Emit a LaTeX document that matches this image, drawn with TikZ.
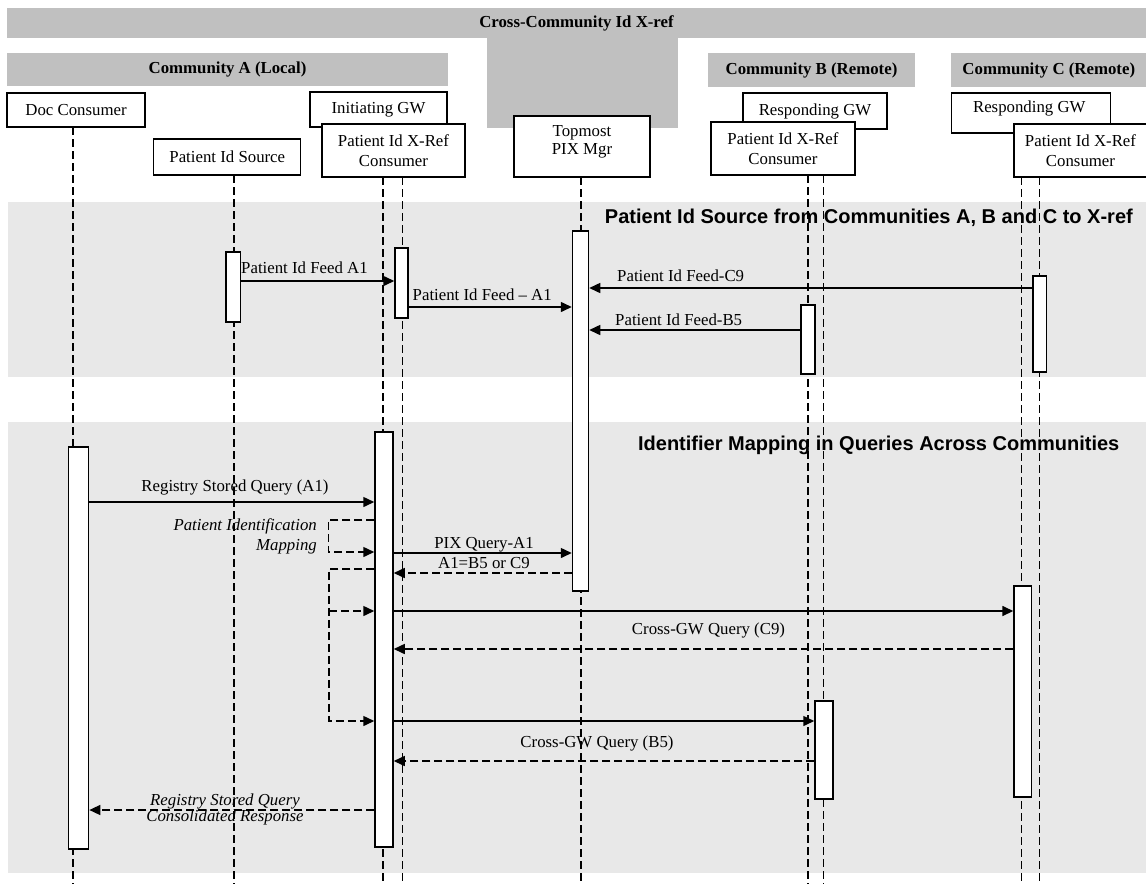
\documentclass[tikz,border=0pt]{standalone}
\usepackage{fontspec}
\setmainfont{Liberation Serif}
\newfontfamily\bandfont{Liberation Sans}
\usepackage{tikz}
\usetikzlibrary{arrows.meta, positioning, calc}
\definecolor{hdrgray}{RGB}{192, 192, 192}
\definecolor{bandgray}{RGB}{232, 232, 232}

\tikzset{
  actor/.style={draw, fill=white, line width=1.3pt, inner sep=0pt, align=center,
                font=\fontsize{16.8}{20.5}\selectfont},
  hdr/.style={fill=hdrgray, inner sep=0pt, font=\fontsize{16.8}{20}\selectfont\bfseries},
  bar/.style={draw, fill=white, line width=1.5pt, inner sep=0pt},
  lifeline/.style={line width=1.2pt, dash pattern=on 8pt off 4pt},
  msg/.style={line width=1.5pt, -{Triangle[length=11pt, width=10pt]}},
  reply/.style={msg, dash pattern=on 8pt off 4pt},
  lbl/.style={inner sep=0pt, font=\fontsize{16.8}{20}\selectfont},
  bandtitle/.style={inner sep=0pt, font=\fontsize{20}{23}\bandfont\bfseries},
}

\begin{document}
\begin{tikzpicture}[x=1pt, y=-1pt]
    \useasboundingbox (0,0) rectangle (1146,884);

    % phase bands
    \fill[bandgray] (8,202) rectangle (1146,377);
    \fill[bandgray] (8,422) rectangle (1146,873);
    \node[bandtitle, anchor=base east] (tFeed) at (1133,223.5)
        {Patient Id Source from Communities A, B and C to X-ref};
    \node[bandtitle, anchor=base east] (tMap) at (1119.5,450)
        {Identifier Mapping in Queries Across Communities};

    % community headers
    \node[hdr, minimum width=1139pt, minimum height=30pt] (xrefHdr) at (576.5,23) {Cross-Community Id X-ref};
    \fill[hdrgray] (487,37) rectangle (678,128);
    \node[hdr, minimum width=441pt, minimum height=33pt] (commA) at (227.5,69.5) {Community A (Local)};
    \node[hdr, minimum width=207pt, minimum height=34pt] (commB) at (811.5,70) {Community B (Remote)};
    \node[hdr, minimum width=195pt, minimum height=34pt] (commC) at (1048.8,70) {Community C (Remote)};

    % actors
    \node[actor, minimum width=138pt, minimum height=34pt] (docC) at (76,110) {Doc Consumer};
    \node[actor, minimum width=147pt, minimum height=36pt] (pidSrc) at (227.3,157) {Patient Id Source};
    \node[actor, minimum width=137pt, minimum height=35pt] (initGW) at (378.5,109.5) {Initiating GW};
    \node[actor, minimum width=143pt, minimum height=53pt] (xrefA) at (393.5,150.5) {Patient Id X-Ref\\Consumer};
    \node[actor, minimum width=136pt, minimum height=61pt,
          label={[lbl, name=pixTxt, align=center, font=\fontsize{16.8}{17.5}\selectfont, yshift=4.8pt]center:Topmost\\PIX Mgr}]
          (pixMgr) at (582,146.5) {};
    \node[actor, minimum width=144pt, minimum height=36pt] (respB) at (815,111) {Responding GW};
    \node[actor, minimum width=144pt, minimum height=53pt] (xrefB) at (783,148.5) {Patient Id X-Ref\\Consumer};
    \node[actor, minimum width=159pt, minimum height=40pt,
          label={[lbl, name=respCTxt, yshift=4.9pt, xshift=-2pt]center:Responding GW}]
          (respC) at (1031.3,112.9) {};
    \node[actor, minimum width=133pt, minimum height=53pt] (xrefC) at (1080.5,150.5) {Patient Id X-Ref\\Consumer};

    % lifelines
    \foreach \x/\y in {73/127, 234/175, 383/177, 402.5/177, 581/177, 808/175, 823.4/175, 1021.5/177, 1039.4/177}
        \draw[lifeline] (\x,\y) -- (\x,884);

    % activation bars
    \node[bar, minimum width=14.5pt, minimum height=70pt] (barSrc) at (233.3,287) {};
    \node[bar, minimum width=13pt, minimum height=70pt] (barXA) at (401.5,283) {};
    \node[bar, minimum width=16pt, minimum height=360pt] (barPix) at (580.5,411) {};
    \node[bar, minimum width=13.5pt, minimum height=96pt] (barXC) at (1039.7,324) {};
    \node[bar, minimum width=14pt, minimum height=69pt] (barXB) at (808,339.5) {};
    \node[bar, minimum width=20pt, minimum height=402pt] (barDoc) at (78.6,648) {};
    \node[bar, minimum width=18pt, minimum height=415pt] (barIGW) at (384,639.5) {};
    \node[bar, minimum width=17.5pt, minimum height=211pt] (barRC) at (1022.8,691.5) {};
    \node[bar, minimum width=18pt, minimum height=98pt] (barRB) at (824,750) {};

    % feeds to the X-ref
    \draw[msg] (barSrc.east |- 0,281) -- (barXA.west |- 0,281);
    \draw[msg] (barXA.east |- 0,307) -- (barPix.west |- 0,307);
    \draw[msg] (barXC.west |- 0,288) -- (barPix.east |- 0,288);
    \draw[msg] (barXB.west |- 0,330) -- (barPix.east |- 0,330);
    \node[lbl, anchor=base west] (lbFeedA) at (241,273) {Patient Id Feed A1};
    \node[lbl, anchor=base west] (lbFeedA2) at (412.5,300) {Patient Id Feed – A1};
    \node[lbl, anchor=base west] (lbFeedC) at (617,281) {Patient Id Feed-C9};
    \node[lbl, anchor=base west] (lbFeedB) at (615,325) {Patient Id Feed-B5};

    % queries across communities
    \draw[msg] (barDoc.east |- 0,502) -- (barIGW.west |- 0,502);
    \node[lbl, anchor=base] (lbRSQ) at (235,491) {Registry Stored Query (A1)};

    \draw[reply] (barIGW.west |- 0,520) -- ++(-46,0) |- (barIGW.west |- 0,552);
    \node[lbl, anchor=north east, align=right, font=\fontsize{16.8}{20}\selectfont\itshape] (lbMap) at (317,518.5)
        {Patient Identification\\Mapping};

    \draw[msg] (barIGW.east |- 0,553) -- (barPix.west |- 0,553);
    \node[lbl, anchor=base] (lbPixQ) at (484,548) {PIX Query-A1};
    \draw[reply] (barPix.west |- 0,573) -- (barIGW.east |- 0,573);
    \node[lbl, anchor=base] (lbPixR) at (484,568) {A1=B5 or C9};

    \coordinate (mapTurn) at (329,0);
    \draw[reply] (barIGW.west |- 0,569) -| (mapTurn |- 0,721) -- (barIGW.west |- 0,721);
    \draw[reply] (mapTurn |- 0,611) -- (barIGW.west |- 0,611);

    \draw[msg] (barIGW.east |- 0,611) -- (barRC.west |- 0,611);
    \draw[reply] (barRC.west |- 0,649) -- (barIGW.east |- 0,649);
    \node[lbl, anchor=base] (lbGwC) at (708.5,634) {Cross-GW Query (C9)};

    \draw[msg] (barIGW.east |- 0,721) -- (barRB.west |- 0,721);
    \draw[reply] (barRB.west |- 0,761) -- (barIGW.east |- 0,761);
    \node[lbl, anchor=base] (lbGwB) at (597,747) {Cross-GW Query (B5)};

    \draw[reply] (barIGW.west |- 0,810) -- (barDoc.east |- 0,810);
    \node[lbl, anchor=north, align=center, font=\fontsize{16.8}{16}\selectfont\itshape] (lbResp) at (225,794)
        {Registry Stored Query\\Consolidated Response};
\end{tikzpicture}
\end{document}
